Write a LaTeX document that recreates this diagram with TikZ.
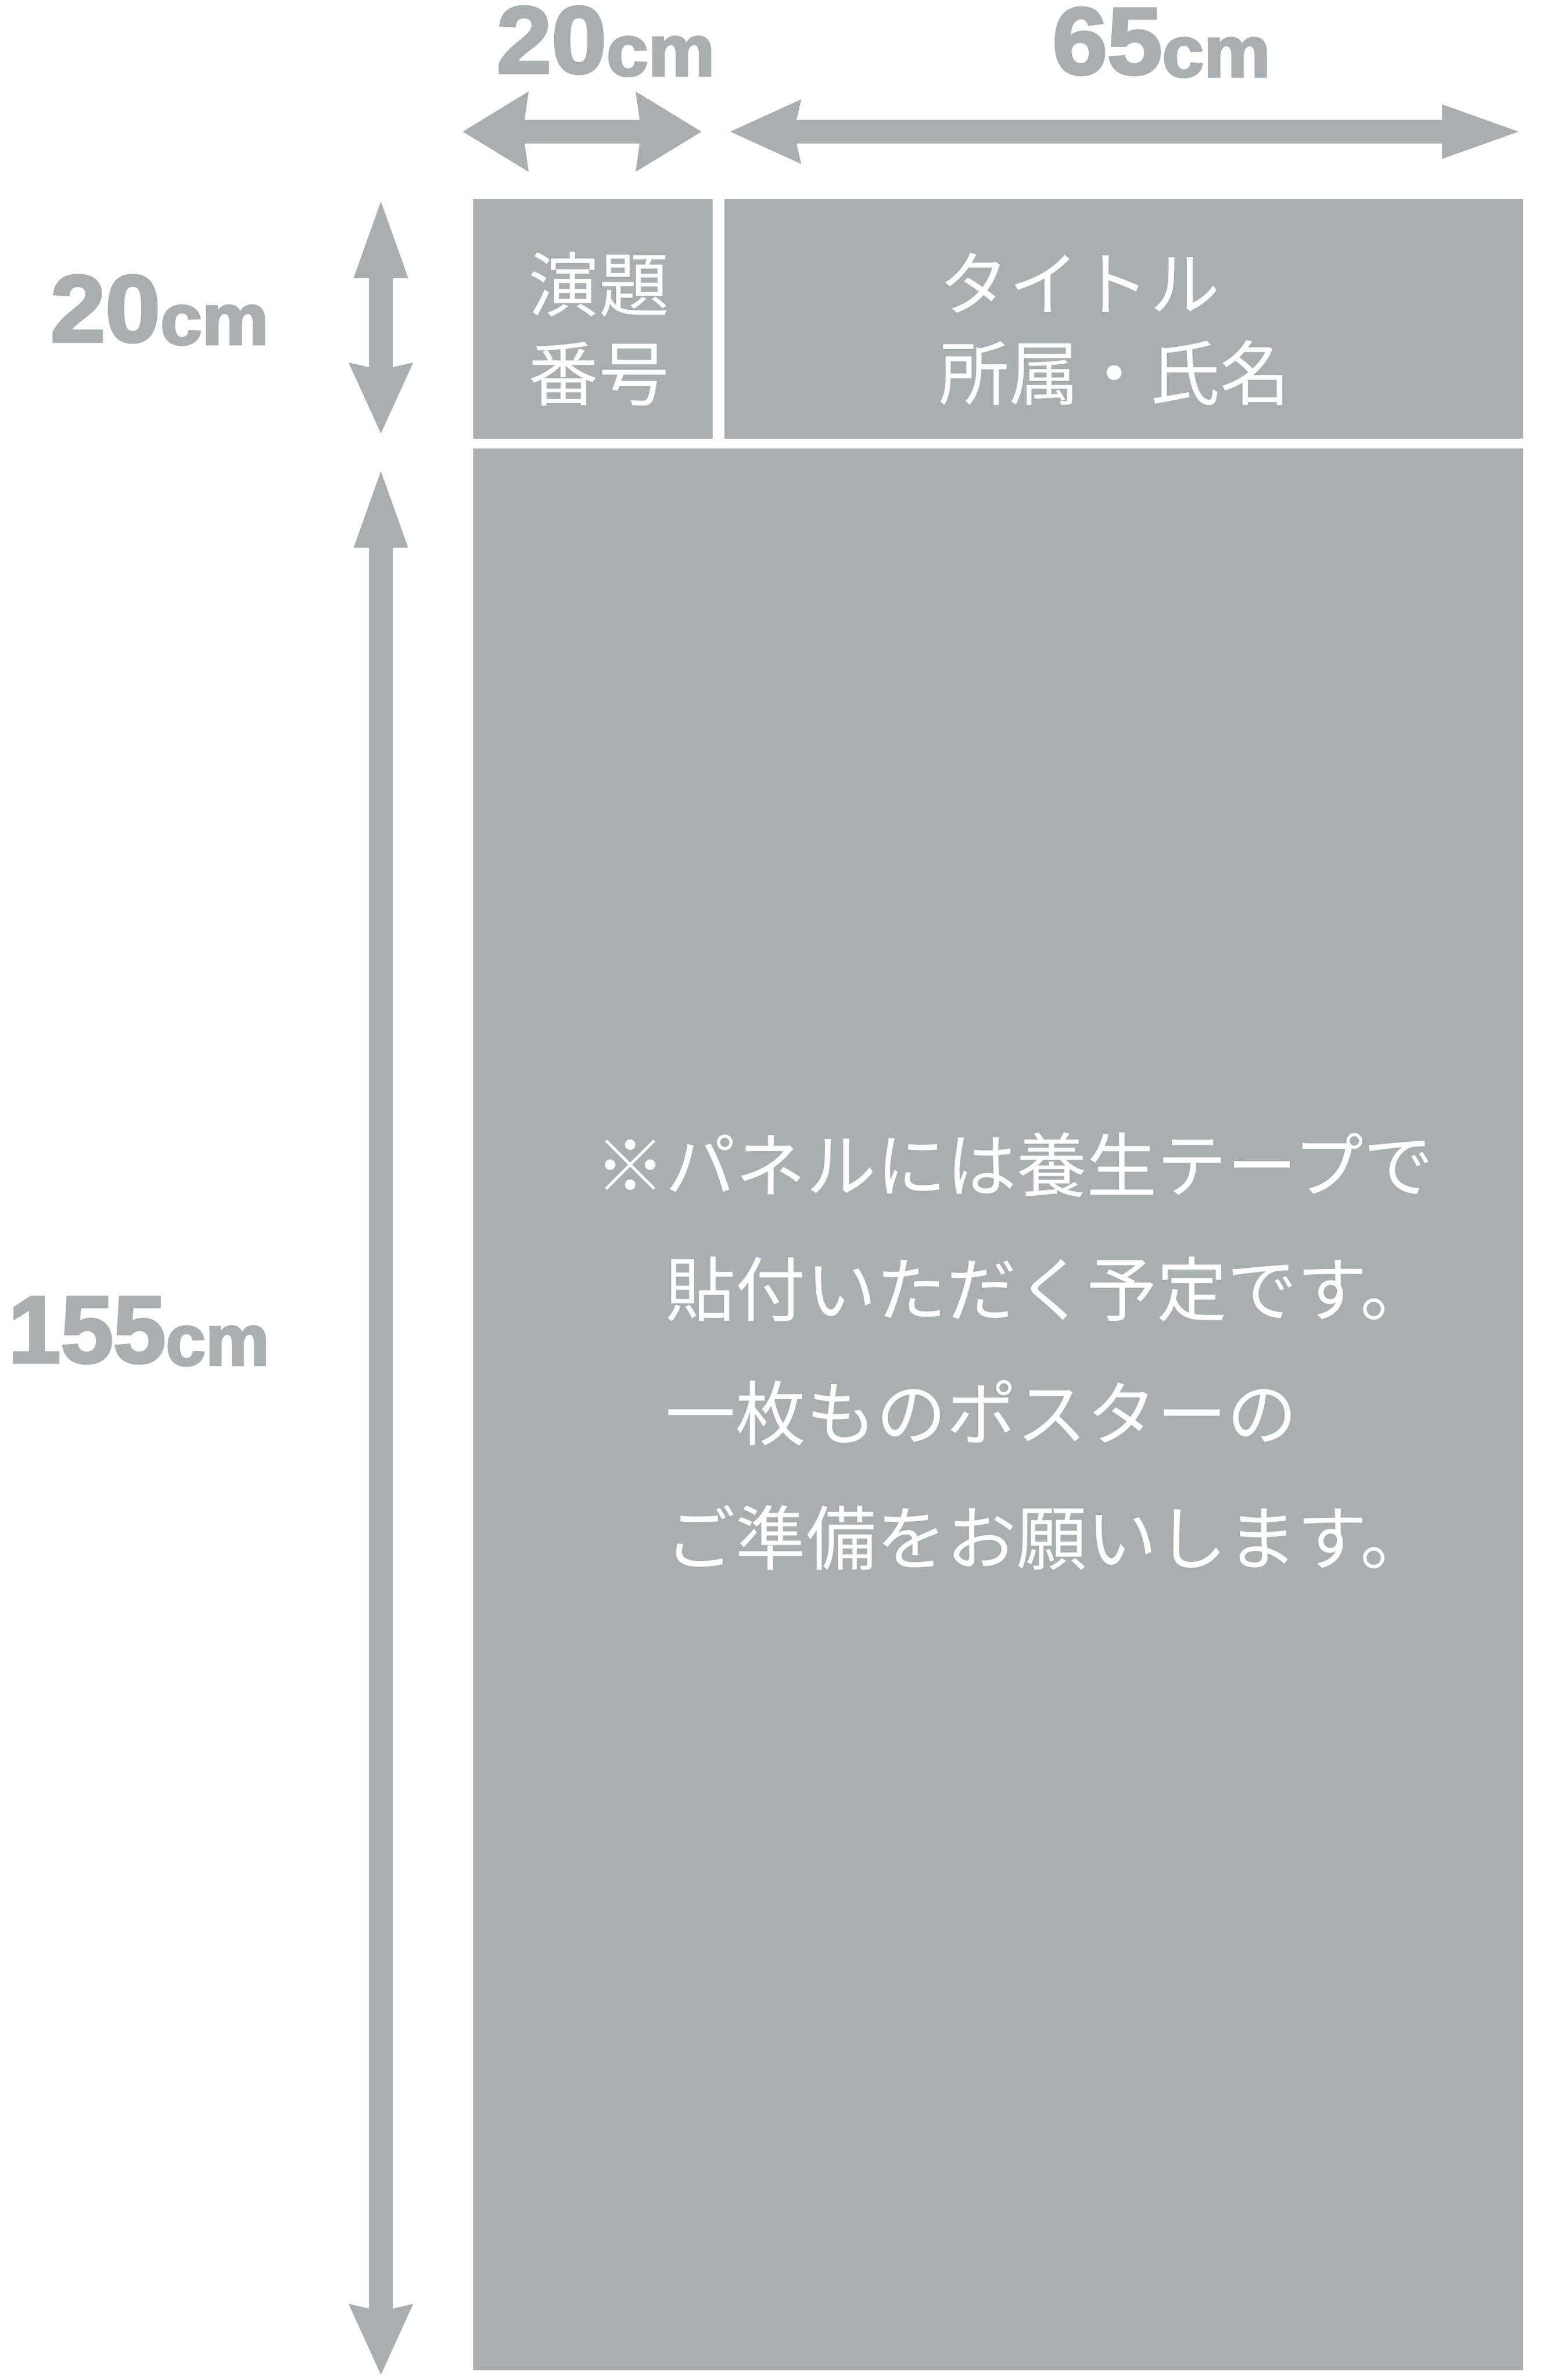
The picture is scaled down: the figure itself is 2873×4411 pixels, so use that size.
\documentclass[tikz,border=0pt]{standalone}
\usepackage{fontspec}
\newfontfamily\jpfont{Noto Sans CJK JP}
\newfontfamily\dimfont{Liberation Sans}[BoldFeatures={FakeBold=3, FakeStretch=1.04}]
\usetikzlibrary{arrows.meta}
\definecolor{panelgray}{RGB}{169,174,177}
\newcommand{\cmunit}{\raisebox{-0.05cm}{\fontsize{38}{38}\selectfont cm}}

\begin{document}
\begin{tikzpicture}[x=0.01cm, y=-0.01cm]

\tikzset{box/.style = {fill=panelgray}}
\tikzset{dim/.style = {draw=panelgray, line width=0.44cm}}
\tikzset{headA/.tip = {Triangle[length=1.58cm, width=0.86cm]}}
\tikzset{headB/.tip = {Stealth[length=1.29cm, width=1.11cm, inset=0.1cm]}}
\tikzset{headC/.tip = {Stealth[length=1.2cm, width=1.41cm, inset=0.08cm]}}
\tikzset{dimlabel/.style = {text=panelgray, inner sep=0, font=\dimfont\bfseries\fontsize{50}{50}\selectfont}}
\tikzset{jptext/.style = {text=white, inner sep=0, font=\jpfont\fontsize{37}{47}\selectfont}}

\useasboundingbox (0,0) rectangle (2873,4411);

% boxes
\fill[box] (877,369) rectangle (1321,813);
\fill[box] (1343,369) rectangle (2823,813);
\fill[box] (877,831) rectangle (2823,4393);

% texts in boxes
\node[jptext, align=center] (num) at (1110,610) {演題\\番号};
\node[jptext, align=left, anchor=west] (title) at (1740,610) {タイトル\\所属・氏名};
\node[jptext, align=left, anchor=west, font=\jpfont\fontsize{37}{65.5}\selectfont] (note) at (1103,2504)
  {※パネルには養生テープで\\　貼付いただく予定です。\\　一枚ものポスターの\\　ご準備をお願いします。};

% arrow ends
\coordinate (w1a) at (857,244);
\coordinate (w1b) at (1301,244);
\coordinate (w2a) at (1352,244);
\coordinate (w2b) at (2831,244);
\coordinate (h1a) at (706,357);
\coordinate (h1b) at (706,805);
\coordinate (h2a) at (706,857);
\coordinate (h2b) at (706,4403);

% arrows
\draw[dim, {headC}-{headC}] (w1a) -- (w1b);
\draw[dim, {headB}-{headA}] (w2a) -- (w2b);
\draw[dim, {headA}-{headB}] (h1a) -- (h1b);
\draw[dim, {headA}-{headB}] (h2a) -- (h2b);

% labels
\node[dimlabel, anchor=base west] (w1) at (920,135) {20\cmunit};
\node[dimlabel, anchor=base west] (w2) at (1950,137) {65\cmunit};
\node[dimlabel, anchor=base west] (h1) at (93,633) {20\cmunit};
\node[dimlabel, anchor=base east] (h2) at (500,2525) {\scalebox{0.956}[1]{155\cmunit}};
\end{tikzpicture}
\end{document}
